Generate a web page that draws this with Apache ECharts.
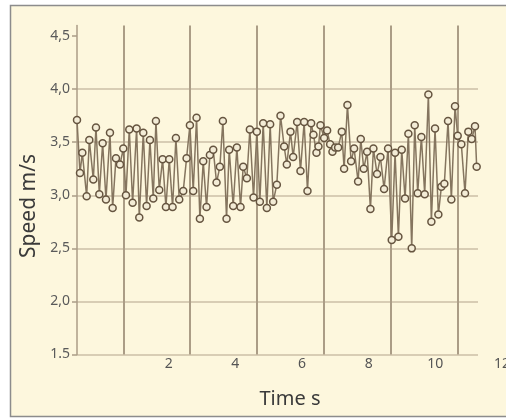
<!DOCTYPE html>
<html>
<head>
<meta charset="utf-8">
<script src="https://cdn.jsdelivr.net/npm/echarts@6/dist/echarts.min.js"></script>
<style>
html,body{margin:0;padding:0;background:#ffffff;}
#c{width:506px;height:419px;}
</style>
</head>
<body>
<div id="c"></div>
<script>
// ---- data ----
var timeS = [-0.75,-0.66,-0.59,-0.46,-0.38,-0.26,-0.18,-0.08,0.02,0.12,
  0.24,0.32,0.42,0.54,0.64,0.72,0.82,0.92,1.04,1.12,
  1.24,1.34,1.44,1.54,1.62,1.72,1.82,1.92,2.02,2.12,
  2.22,2.32,2.44,2.54,2.64,2.74,2.84,2.94,3.04,3.14,
  3.24,3.34,3.44,3.54,3.63,3.74,3.82,3.94,4.05,4.16,
  4.24,4.35,4.44,4.55,4.65,4.74,4.84,4.95,5.05,5.14,
  5.25,5.36,5.47,5.55,5.66,5.74,5.86,5.96,6.07,6.17,
  6.28,6.35,6.44,6.50,6.56,6.67,6.76,6.85,6.92,7.00,
  7.09,7.20,7.27,7.37,7.48,7.57,7.69,7.77,7.86,7.96,
  8.06,8.15,8.26,8.36,8.47,8.59,8.70,8.80,8.90,9.00,
  9.10,9.20,9.30,9.39,9.48,9.59,9.69,9.80,9.89,10.00,
  10.10,10.19,10.28,10.39,10.49,10.60,10.68,10.79,10.90,11.00,
  11.10,11.20,11.25];
var speedMs = [3.71,3.21,3.40,2.99,3.52,3.15,3.64,3.01,3.49,2.96,
  3.59,2.88,3.35,3.29,3.44,3.00,3.62,2.93,3.63,2.79,
  3.59,2.90,3.52,2.97,3.70,3.05,3.34,2.89,3.34,2.89,
  3.54,2.96,3.04,3.35,3.66,3.04,3.73,2.78,3.32,2.89,
  3.38,3.43,3.12,3.27,3.70,2.78,3.43,2.90,3.45,2.89,
  3.27,3.16,3.62,2.98,3.60,2.94,3.68,2.88,3.67,2.94,
  3.10,3.75,3.46,3.29,3.60,3.36,3.69,3.23,3.69,3.04,
  3.68,3.57,3.40,3.46,3.66,3.54,3.61,3.48,3.41,3.45,
  3.45,3.60,3.25,3.85,3.32,3.44,3.13,3.53,3.25,3.41,
  2.87,3.44,3.20,3.36,3.06,3.44,2.58,3.40,2.61,3.43,
  2.97,3.58,2.50,3.66,3.02,3.55,3.01,3.95,2.75,3.63,
  2.82,3.08,3.11,3.70,2.96,3.84,3.56,3.48,3.02,3.60,
  3.53,3.65,3.27];
var yTickValues = [1.5,2.0,2.5,3.0,3.5,4.0,4.5];
var yTickLabels = ['1.5','2,0','2,5','3,0','3,5','4,0','4,5'];
var xTickValues = [2,4,6,8,10,12];
var xTickLabels = ['2','4','6','8','10','12'];
var xGridValues = [0.64,2.65,4.66,6.67,8.68,10.69];

var points = timeS.map(function(t,i){return [t, speedMs[i]];});

var chart = echarts.init(document.getElementById('c'), null, {renderer:'canvas'});
var gridLineV = '#ab9d86';
var gridLineH = '#cbbfa6';
var option = {
  animation:false,
  backgroundColor:'#ffffff',
  graphic:[{
    type:'rect', z:-100, silent:true,
    shape:{x:10.5,y:5.5,width:520,height:411},
    style:{fill:'#fdf7dd',stroke:'#8c8c8c',lineWidth:1.5}
  }],
  grid:[
    {left:77, top:25.5, width:401, height:329, containLabel:false, outerBoundsMode:'none'},
    {left:102, top:25.5, width:400, height:329, containLabel:false, outerBoundsMode:'none'}
  ],
  xAxis:[
    {type:'value', gridIndex:0, min:-0.75, max:11.29,
     axisLine:{show:false, onZero:false},
     axisTick:{show:false, customValues:xGridValues},
     axisLabel:{show:false},
     splitLine:{show:true, lineStyle:{color:gridLineV, width:2}},
     name:'Time s', nameLocation:'middle', nameGap:35,
     nameTextStyle:{fontFamily:'Noto Sans', fontSize:20, color:'#3a3a3a', padding:[0,0,0,25]}
    },
    {type:'value', gridIndex:1, min:0, max:12,
     axisLine:{show:false, onZero:false}, axisTick:{show:false}, splitLine:{show:false},
     axisLabel:{show:true, customValues:xTickValues, margin:3, fontFamily:'Noto Sans', fontSize:14, color:'#555',
       showMaxLabel:true, hideOverlap:false,
       formatter:function(v){var i=xTickValues.indexOf(v);return i<0?'':xTickLabels[i];}}
    }
  ],
  yAxis:[
    {type:'value', gridIndex:0, min:1.5, max:4.6,
     axisLine:{show:true, onZero:false, lineStyle:{color:gridLineV, width:1.5}},
     axisTick:{show:true, customValues:yTickValues, length:5, inside:false, lineStyle:{color:gridLineV, width:1.5}},
     axisLabel:{show:true, customValues:yTickValues, margin:7, fontFamily:'Noto Sans', fontSize:14, color:'#5a5a5a',
       formatter:function(v){var i=yTickValues.indexOf(Math.round(v*10)/10);return i<0?'':yTickLabels[i];}},
     splitLine:{show:true, showMaxLine:false, lineStyle:{color:gridLineH, width:1.5}},
     name:'Speed m/s', nameLocation:'middle', nameGap:36, nameRotate:90,
     nameTextStyle:{fontFamily:'Noto Sans', fontSize:21, color:'#3a3a3a', padding:[0,32,0,0]}
    },
    {type:'value', gridIndex:1, min:0, max:1, show:false}
  ],
  series:[{
    type:'line', xAxisIndex:0, yAxisIndex:0,
    data:points,
    clip:false,
    symbol:'circle', symbolSize:7, showSymbol:true, showAllSymbol:true,
    lineStyle:{color:'#85755f', width:1.5},
    itemStyle:{color:'#f3ecd6', borderColor:'#665540', borderWidth:1.5},
    z:3
  }]
};
chart.setOption(option);
</script>
</body>
</html>
